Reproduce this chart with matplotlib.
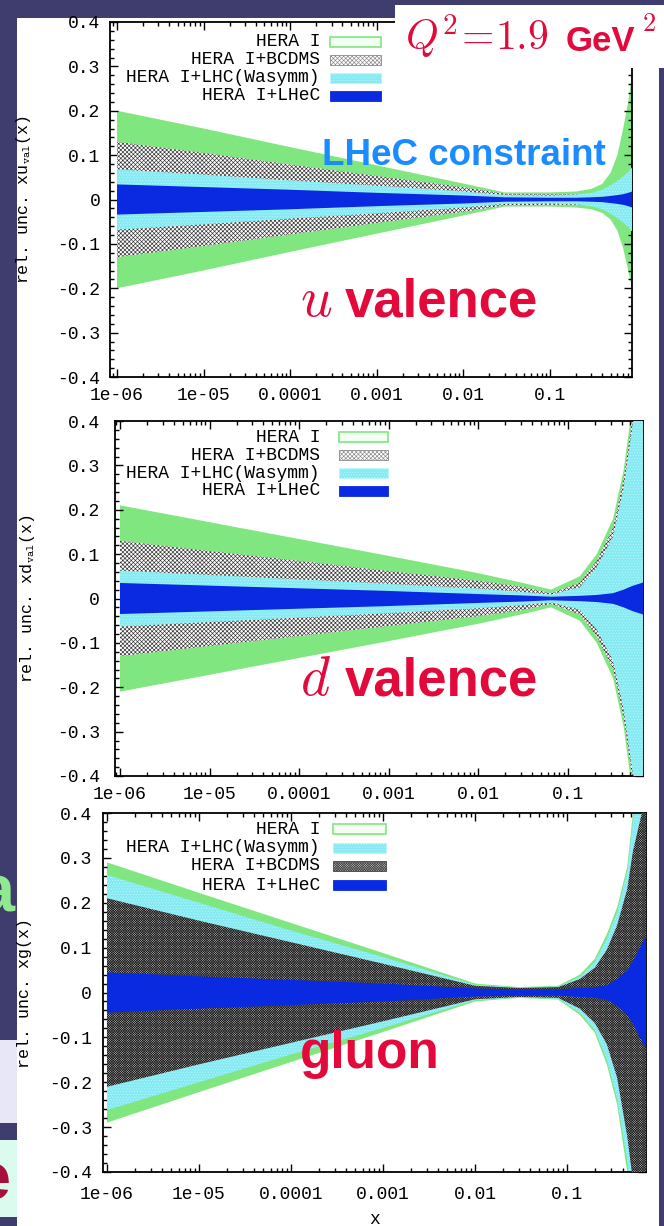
import matplotlib
matplotlib.use("Agg")
import matplotlib.pyplot as plt
from matplotlib.patches import Rectangle
from matplotlib.ticker import FixedLocator, LogLocator, MultipleLocator, NullFormatter, FixedFormatter

W, H, DPI = 664, 1226, 100
plt.rcParams['font.family'] = ['Liberation Mono', 'DejaVu Sans Mono']
plt.rcParams['mathtext.fontset'] = 'cm'
plt.rcParams['hatch.linewidth'] = 0.45

# ---------------- data ----------------
X_TICKS = [1e-6, 1e-5, 1e-4, 1e-3, 1e-2, 1e-1]
X_TICKLABELS = ["1e-06", "1e-05", "0.0001", "0.001", "0.01", "0.1"]
Y_TICKS = [-0.4, -0.3, -0.2, -0.1, 0.0, 0.1, 0.2, 0.3, 0.4]
Y_TICKLABELS = ["-0.4", "-0.3", "-0.2", "-0.1", "0", "0.1", "0.2", "0.3", "0.4"]

# u valence
UV_X = [1e-6, 1e-5, 1e-4, 1e-3, 1e-2, 0.03, 0.1, 0.2, 0.3, 0.4, 0.5, 0.6, 0.7, 0.8, 0.885]
UV_HERA_HI = [0.200, 0.160, 0.118, 0.077, 0.036, 0.016, 0.016, 0.018, 0.024, 0.035, 0.060, 0.100, 0.160, 0.220, 0.280]
UV_HERA_LO = [-0.200, -0.160, -0.118, -0.077, -0.036, -0.016, -0.016, -0.018, -0.022, -0.030, -0.045, -0.070, -0.110, -0.160, -0.200]
UV_BCDMS = [0.130, 0.105, 0.079, 0.053, 0.028, 0.013, 0.012, 0.012, 0.013, 0.014, 0.015, 0.016, 0.017, 0.019, 0.020]
UV_LHC = [0.068, 0.056, 0.043, 0.031, 0.018, 0.010, 0.009, 0.011, 0.015, 0.022, 0.032, 0.042, 0.052, 0.062, 0.072]
UV_LHEC = [0.034, 0.028, 0.022, 0.015, 0.009, 0.005, 0.004, 0.004, 0.005, 0.006, 0.008, 0.010, 0.012, 0.015, 0.018]

# d valence
DV_X = [1e-6, 1e-5, 1e-4, 1e-3, 1e-2, 0.03, 0.065, 0.136, 0.21, 0.32, 0.42, 0.52, 0.69]
DV_HERA = [0.210, 0.172, 0.134, 0.096, 0.057, 0.036, 0.020, 0.050, 0.100, 0.180, 0.290, 0.430, 0.600]
DV_BCDMS = [0.130, 0.107, 0.085, 0.062, 0.040, 0.027, 0.012, 0.036, 0.085, 0.160, 0.270, 0.400, 0.560]
DV_LHC = [0.063, 0.053, 0.043, 0.033, 0.022, 0.015, 0.009, 0.025, 0.070, 0.140, 0.250, 0.380, 0.530]
DV_LHEC = [0.035, 0.029, 0.023, 0.017, 0.010, 0.007, 0.004, 0.006, 0.008, 0.012, 0.020, 0.028, 0.036]

# gluon
G_X = [1e-6, 1e-5, 1e-4, 1e-3, 1e-2, 0.03, 0.08, 0.138, 0.2, 0.27, 0.35, 0.45, 0.52, 0.6, 0.72]
G_HERA_HI = [0.290, 0.222, 0.155, 0.088, 0.020, 0.012, 0.015, 0.040, 0.075, 0.130, 0.190, 0.280, 0.400, 0.520, 0.700]
G_HERA_LO = [-0.290, -0.222, -0.155, -0.088, -0.020, -0.012, -0.016, -0.050, -0.090, -0.160, -0.250, -0.400, -0.520, -0.650, -0.850]
G_LHC_HI = [0.262, 0.200, 0.138, 0.079, 0.017, 0.011, 0.013, 0.035, 0.068, 0.120, 0.180, 0.270, 0.385, 0.500, 0.680]
G_LHC_LO = [-0.262, -0.200, -0.138, -0.079, -0.017, -0.011, -0.014, -0.045, -0.084, -0.150, -0.238, -0.375, -0.490, -0.620, -0.820]
G_BCDMS_HI = [0.210, 0.160, 0.112, 0.064, 0.015, 0.010, 0.012, 0.030, 0.055, 0.095, 0.150, 0.230, 0.315, 0.370, 0.440]
G_BCDMS_LO = [-0.210, -0.160, -0.112, -0.064, -0.015, -0.010, -0.012, -0.036, -0.068, -0.115, -0.190, -0.320, -0.420, -0.540, -0.700]
G_LHEC = [0.045, 0.036, 0.028, 0.020, 0.009, 0.007, 0.007, 0.010, 0.012, 0.016, 0.030, 0.050, 0.070, 0.095, 0.125]

SERIES = ["HERA I", "HERA I+BCDMS", "HERA I+LHC(Wasymm)", "HERA I+LHeC"]
GLUON_ORDER = ["HERA I", "HERA I+LHC(Wasymm)", "HERA I+BCDMS", "HERA I+LHeC"]

# ---------------- styling ----------------
BG = '#3e3d6d'
RED = '#e3093b'
GREEN = '#80e680'
CYAN = '#86eaf2'
BLUE = '#0a2ae2'

STYLE = {
    "HERA I": dict(facecolor=GREEN, edgecolor='none', hatch=None),
    "HERA I+BCDMS": dict(facecolor='white', edgecolor='#303030', hatch='x' * 8),
    "HERA I+LHC(Wasymm)": dict(facecolor=CYAN, edgecolor='#b8f6fa', hatch='.' * 6),
    "HERA I+LHeC": dict(facecolor=BLUE, edgecolor='none', hatch=None),
}
STYLE_G = dict(STYLE)
STYLE_G["HERA I+BCDMS"] = dict(facecolor='#b4b4b4', edgecolor='#1a1a1a', hatch='x' * 14)

LEG_STYLE = {
    "HERA I": dict(facecolor='#f2fff2', edgecolor=GREEN, lw=1.2),
    "HERA I+BCDMS": dict(facecolor='white', edgecolor='#888888', hatch='x' * 8, lw=0.6),
    "HERA I+LHC(Wasymm)": dict(facecolor=CYAN, edgecolor='#b8f6fa', hatch='.' * 6, lw=0.6),
    "HERA I+LHeC": dict(facecolor=BLUE, edgecolor=BLUE, lw=0.6),
}
LEG_STYLE_G = dict(LEG_STYLE)
LEG_STYLE_G["HERA I+BCDMS"] = dict(facecolor='#c0c0c0', edgecolor='#444444', hatch='x' * 14, lw=0.6)

fig = plt.figure(figsize=(W / DPI, H / DPI), dpi=DPI, facecolor=BG)


def fbox(l, t, r, b):
    return [l / W, 1 - b / H, (r - l) / W, (b - t) / H]


def rect(l, t, r, b, **kw):
    p = Rectangle((l / W, 1 - b / H), (r - l) / W, (b - t) / H,
                  transform=fig.transFigure, **kw)
    fig.add_artist(p)
    return p


# white screenshot area and slide pieces
rect(17, 18, 659, 1226, facecolor='white', edgecolor='none', zorder=-2)
rect(0, 1040, 17, 1123, facecolor='#e7e7f8', edgecolor='none', zorder=-2)
rect(0, 1140, 17, 1217, facecolor='#dcfbef', edgecolor='none', zorder=-2)


def setup_axes(box, xlim, ylabel, ypad, xpad):
    ax = fig.add_axes(fbox(*box))
    ax.set_xscale('log')
    ax.set_xlim(*xlim)
    ax.set_ylim(-0.4, 0.4)
    ax.xaxis.set_major_locator(FixedLocator(X_TICKS))
    ax.xaxis.set_major_formatter(FixedFormatter(X_TICKLABELS))
    ax.xaxis.set_minor_locator(LogLocator(base=10, subs=[2, 3, 4, 5, 6, 7, 8, 9], numticks=20))
    ax.xaxis.set_minor_formatter(NullFormatter())
    ax.yaxis.set_major_locator(FixedLocator(Y_TICKS))
    ax.yaxis.set_major_formatter(FixedFormatter(Y_TICKLABELS))
    ax.yaxis.set_minor_locator(MultipleLocator(0.02))
    ax.tick_params(which='both', direction='in', top=True, right=True, labelsize=13, width=1.0)
    ax.tick_params(which='major', length=6)
    ax.tick_params(which='minor', length=3)
    ax.tick_params(axis='y', which='major', pad=ypad)
    ax.tick_params(axis='x', which='major', pad=xpad)
    for s in ax.spines.values():
        s.set_linewidth(1.3)
    ax.set_ylabel(ylabel, fontsize=12)
    ax.set_facecolor('white')
    return ax


def band(ax, x, lo, hi, st, z):
    ax.fill_between(x, lo, hi, facecolor=st['facecolor'], edgecolor=st['edgecolor'],
                    hatch=st['hatch'], linewidth=0, zorder=z)


def legend(order, styles, text_right, sw_l, sw_r, rows):
    for lab, y in zip(order, rows):
        fig.text(text_right / W, 1 - y / H, lab, ha='right', va='center', fontsize=13,
                 family='Liberation Mono', zorder=4)
        rect(sw_l, y - 5, sw_r, y + 5, zorder=4, **styles[lab])


neg = lambda v: [-a for a in v]

# ---- u valence ----
ax_u = setup_axes((110, 22, 632, 377), (8.3e-7, 0.885), r"rel. unc. xu$_{\mathtt{val}}$(x)", 7, 7)
band(ax_u, UV_X, UV_HERA_LO, UV_HERA_HI, STYLE["HERA I"], 1)
band(ax_u, UV_X, neg(UV_BCDMS), UV_BCDMS, STYLE["HERA I+BCDMS"], 2)
band(ax_u, UV_X, neg(UV_LHC), UV_LHC, STYLE["HERA I+LHC(Wasymm)"], 3)
band(ax_u, UV_X, neg(UV_LHEC), UV_LHEC, STYLE["HERA I+LHeC"], 4)
ax_u.yaxis.set_label_coords((33 - 110) / 522, 0.5)
legend(SERIES, LEG_STYLE, 320, 330, 381, [42, 60, 78, 96])

# ---- d valence ----
ax_d = setup_axes((115, 421, 643, 776), (8.8e-7, 0.69), r"rel. unc. xd$_{\mathtt{val}}$(x)", 11, 7)
band(ax_d, DV_X, neg(DV_HERA), DV_HERA, STYLE["HERA I"], 1)
band(ax_d, DV_X, neg(DV_BCDMS), DV_BCDMS, STYLE["HERA I+BCDMS"], 2)
band(ax_d, DV_X, neg(DV_LHC), DV_LHC, STYLE["HERA I+LHC(Wasymm)"], 3)
band(ax_d, DV_X, neg(DV_LHEC), DV_LHEC, STYLE["HERA I+LHeC"], 4)
ax_d.yaxis.set_label_coords((37 - 115) / 528, 0.5)
legend(SERIES, LEG_STYLE, 320, 339, 388, [437, 455, 473, 491])

# ---- gluon ----
ax_g = setup_axes((103, 813, 646, 1172), (9.05e-7, 0.72), "rel. unc. xg(x)", 8, 10)
band(ax_g, G_X, G_HERA_LO, G_HERA_HI, STYLE_G["HERA I"], 1)
band(ax_g, G_X, G_LHC_LO, G_LHC_HI, STYLE_G["HERA I+LHC(Wasymm)"], 2)
band(ax_g, G_X, G_BCDMS_LO, G_BCDMS_HI, STYLE_G["HERA I+BCDMS"], 3)
band(ax_g, G_X, neg(G_LHEC), G_LHEC, STYLE_G["HERA I+LHeC"], 4)
ax_g.yaxis.set_label_coords((32 - 103) / 543, 0.5)
ax_g.set_xlabel("x", fontsize=13, labelpad=6)
legend(GLUON_ORDER, LEG_STYLE_G, 320, 333, 386, [829, 848, 866, 885])

# ---- Q^2 box and annotations ----
rect(395, 5, 664, 68, facecolor='white', edgecolor='none', zorder=5)
rect(659, 68, 664, 1226, facecolor=BG, edgecolor='none', zorder=5)
fig.text(405 / W, 1 - 51 / H, r"$Q^2\!=\!1.9$", color=RED, fontsize=30, ha='left', va='baseline', zorder=6)
fig.text(566 / W, 1 - 51 / H, "GeV", color=RED, fontsize=25, fontweight='bold',
         family='Liberation Sans', ha='left', va='baseline', zorder=6)
fig.text(642 / W, 1 - 31 / H, r"$2$", color=RED, fontsize=19, ha='left', va='baseline', zorder=6)

fig.text(322 / W, 1 - 165 / H, "LHeC constraint", color='#1a8cff', fontsize=26.5, fontweight='bold',
         family='Liberation Sans', ha='left', va='baseline', zorder=6)
fig.text(300 / W, 1 - 316 / H, r"$u$", color=RED, fontsize=40, ha='left', va='baseline', zorder=6)
fig.text(345 / W, 1 - 316 / H, "valence", color=RED, fontsize=38, fontweight='bold',
         family='Liberation Sans', ha='left', va='baseline', zorder=6)
fig.text(300 / W, 1 - 695 / H, r"$d$", color=RED, fontsize=40, ha='left', va='baseline', zorder=6)
fig.text(345 / W, 1 - 695 / H, "valence", color=RED, fontsize=38, fontweight='bold',
         family='Liberation Sans', ha='left', va='baseline', zorder=6)
fig.text(300 / W, 1 - 1068 / H, "gluon", color=RED, fontsize=37, fontweight='bold',
         family='Liberation Sans', ha='left', va='baseline', zorder=6)

# partially visible slide letters at the left edge
fig.text(15 / W, 1 - 912 / H, "a", color='#90e890', fontsize=48, fontweight='bold',
         family='Liberation Sans', ha='right', va='baseline', zorder=1)
fig.text(10 / W, 1 - 1200 / H, "e", color='#a8103c', fontsize=48, fontweight='bold',
         family='Liberation Sans', ha='right', va='baseline', zorder=1)

fig.savefig("out.png", dpi=DPI, facecolor=BG)
